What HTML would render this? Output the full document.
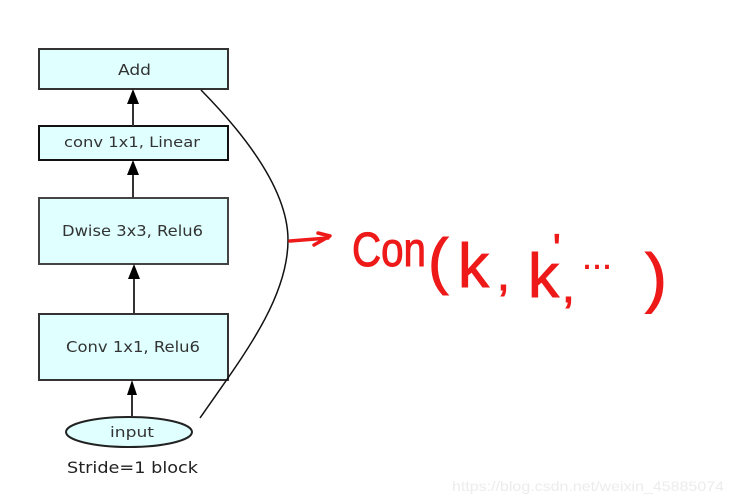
<!DOCTYPE html>
<html><head><meta charset="utf-8"><style>
html,body{margin:0;padding:0;background:#fff;}
svg{display:block;}
</style></head><body>
<svg width="732" height="503" viewBox="0 0 732 503" xmlns="http://www.w3.org/2000/svg">
<g font-family="DejaVu Sans, Liberation Sans, sans-serif" fill="#333" lengthAdjust="spacingAndGlyphs">
<rect x="39" y="49" width="189" height="40" fill="#e0ffff" stroke="#333" stroke-width="2"/>
<text x="118" y="75" font-size="15" textLength="33" lengthAdjust="spacingAndGlyphs">Add</text>
<rect x="39" y="126" width="189" height="34" fill="#e0ffff" stroke="#111" stroke-width="2"/>
<text x="64" y="147" font-size="14" textLength="136" lengthAdjust="spacingAndGlyphs">conv 1x1, Linear</text>
<rect x="39" y="198" width="189" height="66" fill="#e0ffff" stroke="#444" stroke-width="2"/>
<text x="62" y="236" font-size="15" textLength="141" lengthAdjust="spacingAndGlyphs">Dwise 3x3, Relu6</text>
<rect x="39" y="314" width="189" height="66" fill="#e0ffff" stroke="#333" stroke-width="2"/>
<text x="66" y="352" font-size="15" textLength="134" lengthAdjust="spacingAndGlyphs">Conv 1x1, Relu6</text>
<ellipse cx="129" cy="432" rx="63" ry="15" fill="#e0ffff" stroke="#222" stroke-width="2"/>
<text x="110" y="437" font-size="14" textLength="44" lengthAdjust="spacingAndGlyphs">input</text>
<text x="67" y="473" font-size="16" fill="#222" textLength="131" lengthAdjust="spacingAndGlyphs">Stride=1 block</text>
</g>
<g stroke="#333" stroke-width="2">
<line x1="133" y1="126" x2="133" y2="100"/>
<line x1="133" y1="198" x2="133" y2="172"/>
<line x1="134" y1="314" x2="134" y2="276"/>
<line x1="132" y1="417" x2="132" y2="392"/>
</g>
<g fill="#000">
<polygon points="133,89 127,104 139,104"/>
<polygon points="133,160 127,175 139,175"/>
<polygon points="134,264 128,279 140,279"/>
<polygon points="132,380 127,395 137,395"/>
</g>
<path d="M201,90 C260,150 288,200 288,240 C288,300 240,360 200,418" fill="none" stroke="#111" stroke-width="1.5"/>
<path d="M290,241 L328,238 M318,233 L330,236 L314,245" fill="none" stroke="#ee1a1a" stroke-width="3.5" stroke-linecap="round" stroke-linejoin="round"/>
<g font-family="Liberation Sans, sans-serif" fill="#ee1a1a" stroke="#ee1a1a" stroke-width="1">
<text x="352" y="266" font-size="48" textLength="74" lengthAdjust="spacingAndGlyphs">Con</text>
<text x="428" y="282" font-size="62">(</text>
<text x="458" y="287" font-size="62">k</text>
<text x="497" y="290" font-size="46">,</text>
<text x="528" y="297" font-size="62">k</text>
<text x="553" y="262" font-size="40">'</text>
<text x="562" y="302" font-size="46">,</text>
<text x="582" y="275" font-size="30">···</text>
<text x="645" y="300" font-size="66">)</text>
</g>
<text x="452" y="491" font-family="Liberation Sans, sans-serif" font-size="14" fill="#ececec" textLength="272" lengthAdjust="spacingAndGlyphs">https://blog.csdn.net/weixin_45885074</text>
</svg>
</body></html>
